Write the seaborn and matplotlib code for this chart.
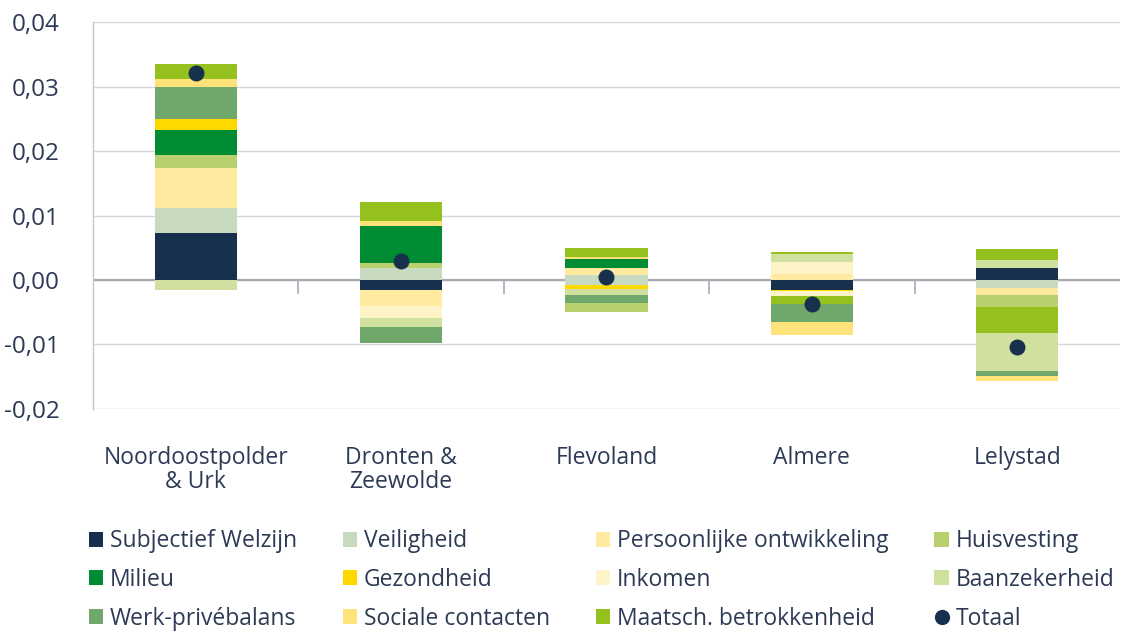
import numpy as np
import pandas as pd
import matplotlib
matplotlib.use("Agg")
import matplotlib.pyplot as plt
from matplotlib.patches import Patch
from matplotlib.lines import Line2D
from matplotlib.ticker import FuncFormatter
import seaborn as sns

# regio's en onderdelen (volgorde = legenda)
regions = ["Noordoostpolder\n& Urk", "Dronten &\nZeewolde", "Flevoland", "Almere", "Lelystad"]
categories = ["Subjectief Welzijn", "Veiligheid", "Persoonlijke ontwikkeling", "Huisvesting",
              "Milieu", "Gezondheid", "Inkomen", "Baanzekerheid",
              "Werk-privébalans", "Sociale contacten", "Maatsch. betrokkenheid"]
colors = ["#17304e", "#c8dac0", "#ffeaa0", "#b8d06e",
          "#008c33", "#fdd900", "#fff3c8", "#d0e09e",
          "#6fa86a", "#ffe27a", "#95c11f"]

# bijdragen per regio, in stapelvolgorde
noordoostpolder = [("Subjectief Welzijn", 0.0073), ("Veiligheid", 0.0039),
                   ("Persoonlijke ontwikkeling", 0.0062), ("Huisvesting", 0.0020),
                   ("Milieu", 0.0039), ("Gezondheid", 0.0017), ("Werk-privébalans", 0.0050),
                   ("Sociale contacten", 0.0012), ("Maatsch. betrokkenheid", 0.0023),
                   ("Baanzekerheid", -0.0016)]
dronten = [("Subjectief Welzijn", -0.0016), ("Veiligheid", 0.0018),
           ("Persoonlijke ontwikkeling", -0.0024), ("Huisvesting", 0.0009),
           ("Milieu", 0.0057), ("Inkomen", -0.0019), ("Baanzekerheid", -0.0014),
           ("Werk-privébalans", -0.0024), ("Sociale contacten", 0.0008),
           ("Maatsch. betrokkenheid", 0.0029)]
flevoland = [("Veiligheid", 0.0008), ("Veiligheid", -0.0007),
             ("Persoonlijke ontwikkeling", 0.0010), ("Milieu", 0.0015),
             ("Gezondheid", -0.0007), ("Baanzekerheid", -0.0010),
             ("Werk-privébalans", -0.0012), ("Huisvesting", -0.0013),
             ("Sociale contacten", 0.0002), ("Maatsch. betrokkenheid", 0.0014)]
almere = [("Subjectief Welzijn", -0.0015), ("Persoonlijke ontwikkeling", 0.0009),
          ("Gezondheid", -0.0002), ("Inkomen", 0.0019), ("Inkomen", -0.0008),
          ("Baanzekerheid", 0.0012), ("Maatsch. betrokkenheid", -0.0012),
          ("Werk-privébalans", -0.0028), ("Sociale contacten", -0.0020),
          ("Maatsch. betrokkenheid", 0.0003)]
lelystad = [("Subjectief Welzijn", 0.0019), ("Veiligheid", -0.0012),
            ("Persoonlijke ontwikkeling", -0.0012), ("Huisvesting", -0.0018),
            ("Maatsch. betrokkenheid", -0.0040), ("Baanzekerheid", 0.0012),
            ("Baanzekerheid", -0.0059), ("Werk-privébalans", -0.0008),
            ("Sociale contacten", -0.0008), ("Maatsch. betrokkenheid", 0.0017)]
totaal = [0.0321, 0.0029, 0.0004, -0.0038, -0.0104]

text_color = "#2d3a55"
fs = 16.5

sns.set_theme(style="white")
plt.rcParams["font.family"] = ["Open Sans", "DejaVu Sans"]
plt.rcParams["text.color"] = text_color

# stapelen: positief omhoog, negatief omlaag
rows = []
for region, segs in zip(regions, [noordoostpolder, dronten, flevoland, almere, lelystad]):
    pos, neg = 0.0, 0.0
    for cat, v in segs:
        if v >= 0:
            rows.append((region, cat, v, pos, "pos"))
            pos += v
        else:
            rows.append((region, cat, v, neg, "neg"))
            neg += v
df = pd.DataFrame(rows, columns=["region", "category", "value", "bottom", "sign"])
df["ri"] = df["region"].map({r: i for i, r in enumerate(regions)})
palette = dict(zip(categories, colors))

fig = plt.figure(figsize=(11.21, 6.33), dpi=100)
ax = fig.add_axes([0.083, 0.354, 0.916, 0.611])

for (cat, sign), sub in df.groupby(["category", "sign"], sort=False):
    sub = sub.sort_values("ri")
    sns.barplot(data=sub, x="region", y="value", order=regions, color=palette[cat],
                saturation=1, width=0.4, errorbar=None, linewidth=0,
                bottom=sub["bottom"].to_numpy(), ax=ax, zorder=2)

sns.stripplot(x=regions, y=totaal, order=regions, jitter=False, size=11.5,
              color="#17304e", linewidth=0, ax=ax, zorder=5)

ax.set_ylim(-0.02, 0.04)
ax.set_xlim(-0.5, len(regions) - 0.5)
ax.set_yticks(np.arange(-0.02, 0.0401, 0.01))
ax.yaxis.set_major_formatter(FuncFormatter(lambda v, p: f"{round(v, 2) + 0:.2f}".replace(".", ",")))
ax.grid(axis="y", color="#d6d6de", linewidth=1)
ax.set_axisbelow(True)
ax.axhline(0, color="#a9a9b3", linewidth=1.6, zorder=1)
ax.set_xlabel("")
ax.set_ylabel("")
for s in ["top", "right", "bottom"]:
    ax.spines[s].set_visible(False)
ax.spines["left"].set_color("#c4c4cc")
ax.spines["left"].set_linewidth(1)
ax.tick_params(axis="y", length=0, pad=24, labelsize=17.5, labelcolor=text_color)
ax.tick_params(axis="x", length=0, pad=27, labelsize=fs, labelcolor=text_color)
for lab in ax.get_xticklabels():
    lab.set_linespacing(1.0)

# streepjes tussen de categorieën op de nullijn
sec = ax.secondary_xaxis(1 / 3)
sec.set_xticks(np.arange(0.5, len(regions) - 0.5, 1.0), labels=[])
sec.xaxis.set_ticks_position("bottom")
sec.tick_params(axis="x", direction="out", length=10, width=1.2, color="#a9a9b3")
for s in sec.spines.values():
    s.set_visible(False)

handles = [Patch(facecolor=c, edgecolor="none", label=l) for l, c in zip(categories, colors)]
handles.append(Line2D([], [], linestyle="none", marker="o", markersize=11,
                      markerfacecolor="#17304e", markeredgecolor="none", label="Totaal"))
ncol = 4
ordered = [handles[i] for c in range(ncol) for i in range(c, len(handles), ncol)]
fig.legend(handles=ordered, loc="upper left", bbox_to_anchor=(0.079, 0.164), ncol=ncol,
           frameon=False, fontsize=fs, handlelength=0.64, handleheight=0.64,
           handletextpad=0.28, columnspacing=2.0, labelspacing=0.64, borderpad=0,
           borderaxespad=0, labelcolor=text_color)

fig.savefig("out.png", dpi=100)
